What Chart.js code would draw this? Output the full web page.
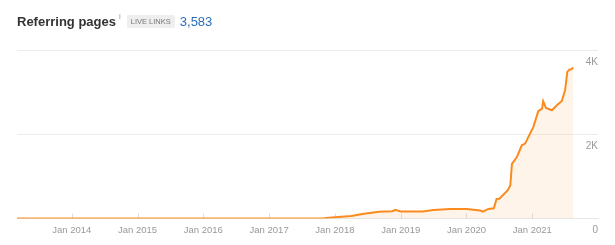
<!DOCTYPE html>
<html>
<head>
<meta charset="utf-8">
<script src="https://cdn.jsdelivr.net/npm/chart.js@4"></script>
<style>
  body { margin: 0; background: #fff; font-family: "Liberation Sans", Arial, sans-serif; }
  #wrap { position: relative; width: 615px; height: 245px; }
  #title { position: absolute; left: 17px; top: 14px; display: flex; align-items: center; white-space: nowrap; }
  #title .name { font-size: 13px; font-weight: bold; color: #333; }
  #title .info { font-size: 8px; color: #999; margin-left: 3px; position: relative; top: -5px; }
  #title .badge { font-size: 7.5px; color: #777; background: #eee; padding: 2px 4px; margin-left: 6px; border-radius: 2px; }
  #title .count { font-size: 13px; color: #2a6ebb; margin-left: 5px; }
  canvas { position: absolute; left: 0; top: 0; }
</style>
</head>
<body>
<div id="wrap">
  <canvas id="myChart" width="615" height="245"></canvas>
  <div id="title">
    <span class="name">Referring pages</span><span class="info">i</span>
    <span class="badge">LIVE LINKS</span><span class="count">3,583</span>
  </div>
</div>
<script>
// months counted from Jan 2013 (0 = Jan 2013)
const months = [2, 12, 24, 36, 48, 56, 58, 60, 63, 65, 68, 70.5, 71, 72, 76, 78, 81, 84, 86.5, 87, 88, 89, 89.5, 90, 91.5, 92, 92.3, 93.2, 94.1, 94.7, 96.2, 97.1, 97.8, 98, 98.5, 99.6, 100.5, 101.4, 102, 102.4, 102.8, 103.1, 103.5];
const pages = [0, 0, 0, 0, 0, 0, 10, 30, 64, 111, 160, 174, 206, 167, 167, 206, 230, 230, 190, 167, 230, 245, 468, 470, 667, 786, 1300, 1460, 1740, 1780, 2170, 2550, 2610, 2785, 2625, 2570, 2690, 2790, 3050, 3480, 3540, 3540, 3583];
const xTicks = [12, 24, 36, 48, 60, 72, 84, 96];
const xTickLabels = ['Jan 2014', 'Jan 2015', 'Jan 2016', 'Jan 2017', 'Jan 2018', 'Jan 2019', 'Jan 2020', 'Jan 2021'];
const yTicks = [0, 2000, 4000];
const yTickLabels = ['0', '2K', '4K'];

const points = months.map((m, i) => ({ x: m, y: pages[i] }));

// little upward tick marks on the baseline at each January
const baseTicks = {
  id: 'baseTicks',
  beforeDatasetsDraw(chart) {
    const { ctx, scales: { x, y } } = chart;
    const base = y.getPixelForValue(0);
    ctx.save();
    ctx.strokeStyle = '#dedede';
    ctx.lineWidth = 1;
    xTicks.forEach(t => {
      const px = Math.round(x.getPixelForValue(t)) + 0.5;
      ctx.beginPath();
      ctx.moveTo(px, base);
      ctx.lineTo(px, base - 5);
      ctx.stroke();
    });
    ctx.restore();
  }
};

const ctx1 = document.getElementById('myChart');

new Chart(ctx1, {
  type: 'line',
  data: {
    datasets: [{
      data: points,
      borderColor: '#fb8b1e',
      backgroundColor: 'rgba(255, 145, 40, 0.1)',
      borderWidth: 2,
      fill: 'origin',
      pointRadius: 0,
      tension: 0
    }]
  },
  options: {
    responsive: false,
    animation: false,
    layout: { padding: { top: 50, left: 17, right: 17, bottom: 3 } },
    plugins: { legend: { display: false }, tooltip: { enabled: false } },
    scales: {
      x: {
        type: 'linear',
        min: 2,
        max: 108,
        afterBuildTicks: axis => { axis.ticks = xTicks.map(v => ({ value: v })); },
        grid: { display: false, drawTicks: false },
        border: { display: true, color: '#e6e6e6' },
        ticks: {
          padding: 6,
          color: '#999',
          font: { size: 9.5, family: '"Liberation Sans", Arial, sans-serif' },
          callback: v => xTickLabels[xTicks.indexOf(v)]
        }
      },
      y: {
        position: 'right',
        min: 0,
        max: 4000,
        afterBuildTicks: axis => { axis.ticks = yTicks.map(v => ({ value: v })); },
        grid: { color: '#ececec', drawTicks: false },
        border: { display: false },
        ticks: {
          mirror: true,
          padding: 0,
          labelOffset: 12,
          color: '#999',
          font: { size: 10, family: '"Liberation Sans", Arial, sans-serif' },
          callback: v => yTickLabels[yTicks.indexOf(v)]
        }
      }
    }
  },
  plugins: [baseTicks]
});
</script>
</body>
</html>
